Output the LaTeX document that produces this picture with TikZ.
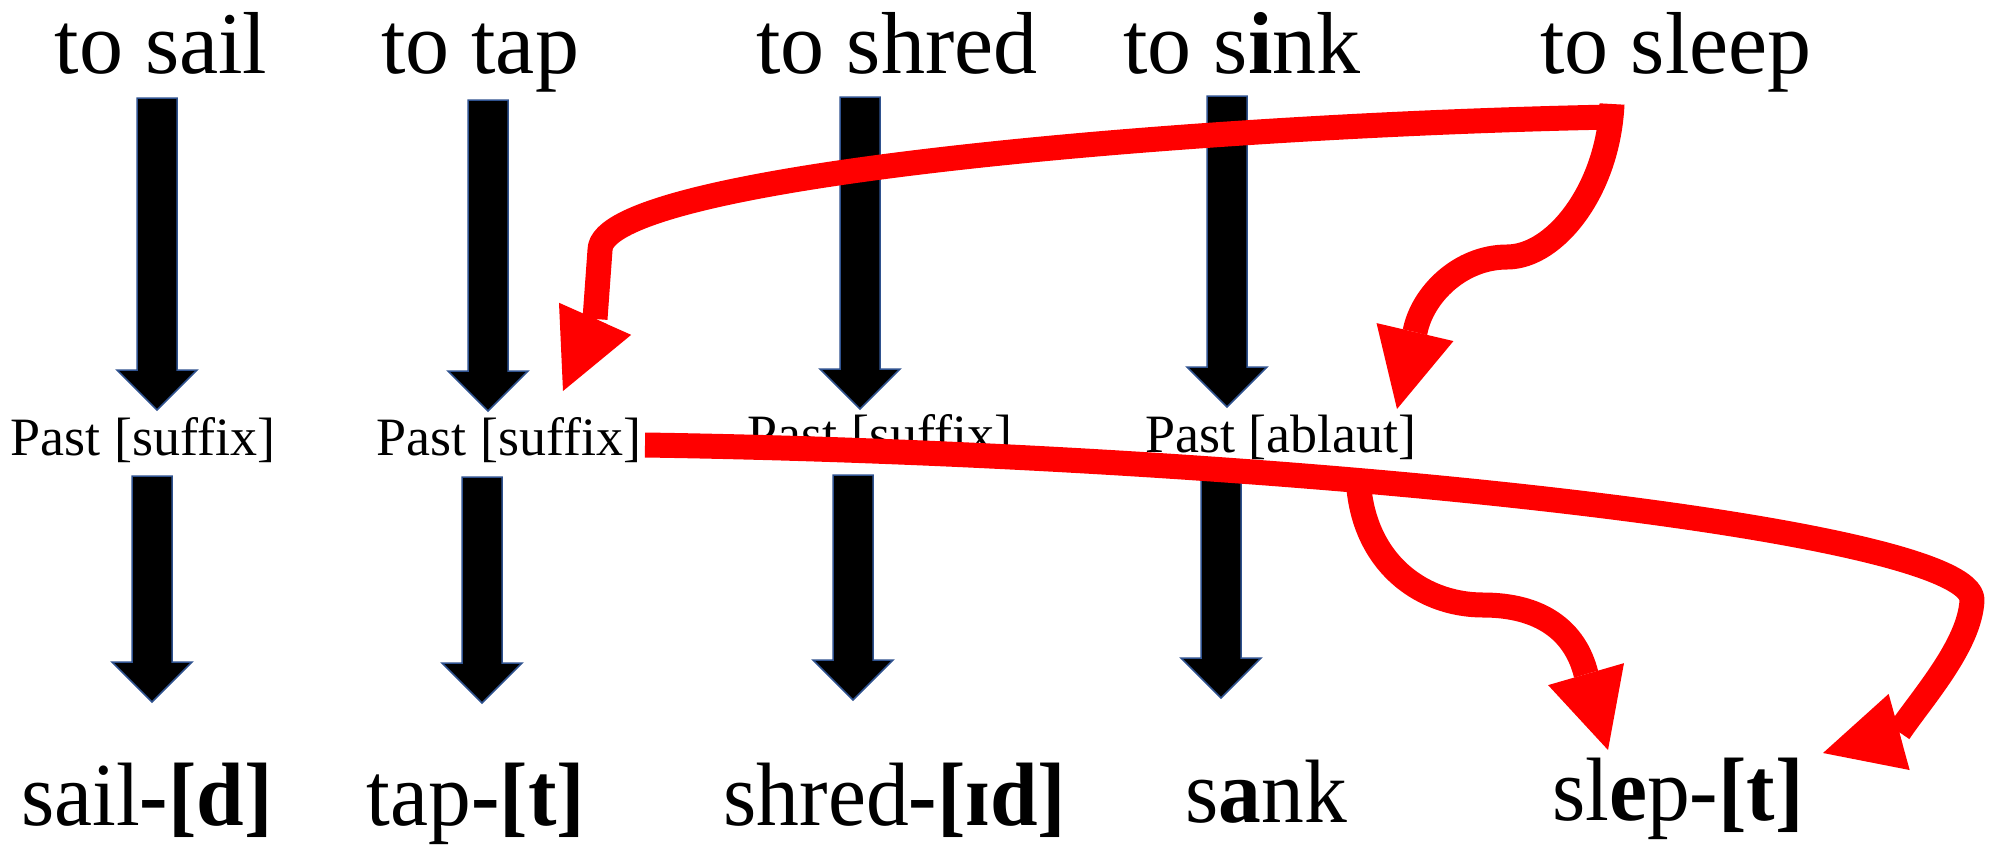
\documentclass[tikz,border=0pt]{standalone}
\usepackage{fontspec}
\setmainfont{Liberation Serif}
\newfontfamily\botfont[FakeStretch=0.95]{Liberation Serif}
\usetikzlibrary{arrows.meta,calc}
\definecolor{outlineblue}{RGB}{47,82,143}
\definecolor{pred}{RGB}{255,0,0}
\newcommand{\blockarr}[2]{%
  \draw[blockarrow] let \p1=(#1), \p2=(#2) in
    (\x1-20pt,\y1) -- (\x1+20pt,\y1) -- (\x1+20pt,\y2+40pt) -- (\x1+40pt,\y2+40pt)
    -- (\x1,\y2) -- (\x1-40pt,\y2+40pt) -- (\x1-20pt,\y2+40pt) -- cycle;}
\begin{document}
\begin{tikzpicture}[x=1pt,y=-1pt,
  toptext/.style={font=\fontsize{88}{100}\selectfont, inner sep=0pt, anchor=base},
  midtext/.style={font=\fontsize{54}{60}\selectfont, inner sep=0pt, anchor=base},
  bottext/.style={font=\botfont\fontsize{90}{100}\selectfont, inner sep=0pt, anchor=base},
  blockarrow/.style={fill=black, draw=outlineblue, line width=1.5pt, line join=miter},
  redarrow/.style={draw=pred, line width=25pt, line join=round,
    -{Triangle[length=79pt,width=79pt,line width=0pt]}}]
\useasboundingbox (0,0) rectangle (2004,846);

% top words
\node[toptext] (tsail)  at (161,73)  {to sail};
\node[toptext] (ttap)   at (480,73)  {to tap};
\node[toptext] (tshred) at (897,73)  {to shred};
\node[toptext] (tsink)  at (1242,73) {to s\textbf{i}nk};
\node[toptext] (tsleep) at (1676,73) {to sleep};

% middle labels
\node[midtext] (p1) at (143,455)  {Past [suffix]};
\node[midtext] (p2) at (509,455)  {Past [suffix]};
\node[midtext] (p3) at (880,452)  {Past [suffix]};
\node[midtext] (p4) at (1281,452) {Past [ablaut]};

% bottom words
\node[bottext] (b1) at (147,825)  {sail\textbf{-[d]}};
\node[bottext] (b2) at (476,825)  {tap\textbf{-[t]}};
\node[bottext] (b3) at (895,825)  {shred\textbf{-[ɪd]}};
\node[bottext] (b4) at (1266,822) {s\textbf{a}nk};
\node[bottext] (b5) at (1678,820) {sl\textbf{e}p-\textbf{[t]}};

% block arrow ends
\coordinate (u1s) at (157,98);   \coordinate (u1e) at (157,410);
\coordinate (u2s) at (488,100);  \coordinate (u2e) at (488,411);
\coordinate (u3s) at (860,97);   \coordinate (u3e) at (860,409);
\coordinate (u4s) at (1227,96);  \coordinate (u4e) at (1227,407);
\coordinate (l1s) at (152,476);  \coordinate (l1e) at (152,702);
\coordinate (l2s) at (482,477);  \coordinate (l2e) at (482,703);
\coordinate (l3s) at (853,475);  \coordinate (l3e) at (853,700);
\coordinate (l4s) at (1221,475); \coordinate (l4e) at (1221,698);
\blockarr{u1s}{u1e}
\blockarr{u2s}{u2e}
\blockarr{u3s}{u3e}
\blockarr{u4s}{u4e}
\blockarr{l1s}{l1e}
\blockarr{l2s}{l2e}
\blockarr{l3s}{l3e}
\blockarr{l4s}{l4e}

% red arrow points
\coordinate (aS) at (1612,117);
\coordinate (aV) at (600,250);
\coordinate (aB) at (595,319);
\coordinate (aT) at (563,391);
\coordinate (bS) at (1612,104);
\coordinate (bM) at (1507,257);
\coordinate (bB) at (1415,332);
\coordinate (bT) at (1397,409);
\coordinate (cS) at (645,445);
\coordinate (cR) at (1972,600);
\coordinate (cB) at (1899,732);
\coordinate (cT) at (1823,753);
\coordinate (dS) at (1358,470);
\coordinate (dM) at (1483,605);
\coordinate (dB) at (1586,674);
\coordinate (dT) at (1608,750);

\draw[redarrow] (aS) .. controls (1200,125) and (600,175) .. (aV) -- (aB) -- (aT);
\draw[redarrow] (bS) .. controls (1608,190) and (1555,257) .. (bM)
  .. controls (1460,257) and (1422,295) .. (bB) -- (bT);
\draw[redarrow] (cS) .. controls (1300,455) and (1972,530) .. (cR)
  .. controls (1970,645) and (1922,698) .. (cB) -- (cT);
\draw[redarrow] (dS) .. controls (1358,560) and (1420,605) .. (dM)
  .. controls (1540,605) and (1575,630) .. (dB) -- (dT);
\end{tikzpicture}
\end{document}
